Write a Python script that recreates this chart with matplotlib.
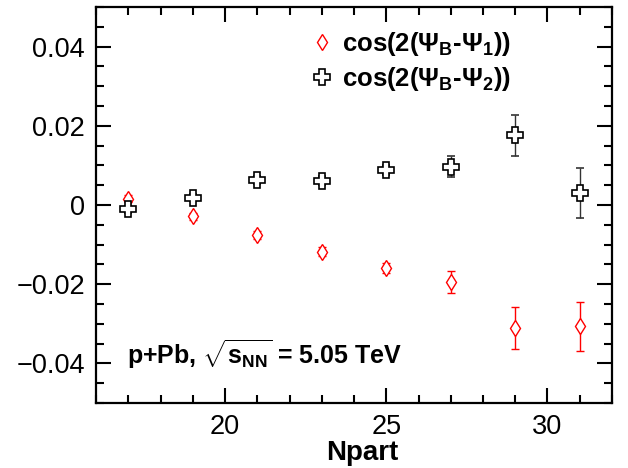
import matplotlib.pyplot as plt
import numpy as np
from matplotlib.ticker import MultipleLocator
from matplotlib.lines import Line2D

plt.rcParams['font.family'] = 'Liberation Sans'
plt.rcParams['mathtext.fontset'] = 'custom'
plt.rcParams['mathtext.rm'] = 'Liberation Sans:bold'
plt.rcParams['mathtext.bf'] = 'Liberation Sans:bold'
plt.rcParams['mathtext.it'] = 'Liberation Sans:bold'
plt.rcParams['axes.unicode_minus'] = True

npart = np.array([17, 19, 21, 23, 25, 27, 29, 31])

# cos(2(PsiB - Psi1))
cos_b1 = np.array([0.0016, -0.0028, -0.0076, -0.0118, -0.0159, -0.0195, -0.0310, -0.0306])
err_b1 = np.array([0.0008, 0.0009, 0.0010, 0.0011, 0.0013, 0.0027, 0.0053, 0.0062])

# cos(2(PsiB - Psi2))
cos_b2 = np.array([-0.0011, 0.0018, 0.0064, 0.0061, 0.0089, 0.0097, 0.0176, 0.0031])
err_b2 = np.array([0.0008, 0.0009, 0.0010, 0.0011, 0.0013, 0.0027, 0.0052, 0.0063])

lab1 = r'cos(2($\Psi_{B}$-$\Psi_{1}$))'
lab2 = r'cos(2($\Psi_{B}$-$\Psi_{2}$))'

fig = plt.figure(figsize=(6.28, 4.68), dpi=100)
ax = fig.add_axes([0.153, 0.139, 0.8215, 0.846])

st1 = dict(marker='d', color='red', mfc='white', mec='red', ms=8.6, mew=1.0)
st2 = dict(marker='P', color='#333333', mfc='white', mec='black', ms=11.5, mew=1.2)

ax.errorbar(npart, cos_b1, yerr=err_b1, ls='none', elinewidth=1.0, capsize=3, capthick=1.0, **st1)
ax.errorbar(npart, cos_b2, yerr=err_b2, ls='none', elinewidth=1.0, capsize=3, capthick=1.0, **st2)

ax.set_xlim(16, 32)
ax.set_ylim(-0.05, 0.05)
ax.xaxis.set_major_locator(MultipleLocator(5))
ax.xaxis.set_minor_locator(MultipleLocator(1))
ax.yaxis.set_major_locator(MultipleLocator(0.02))
ax.yaxis.set_minor_locator(MultipleLocator(0.005))
ax.yaxis.set_major_formatter(plt.FuncFormatter(lambda v, p: '0' if abs(v) < 1e-9 else f'{v:.2f}'.replace('-', '\u2212')))

ax.tick_params(which='both', direction='in', top=True, right=True, width=1.5, labelsize=19.5)
ax.tick_params(which='major', length=11, pad=8)
ax.tick_params(which='minor', length=6)
for s in ax.spines.values():
    s.set_linewidth(1.6)

ax.set_xlabel('Npart', fontsize=20, fontweight='bold', x=0.515, labelpad=0)

# legend shows markers only
handles = [Line2D([], [], ls='none', **st1), Line2D([], [], ls='none', **st2)]
ax.legend(handles, [lab1, lab2], loc='upper left', bbox_to_anchor=(0.36, 1.0), frameon=False,
          prop={'size': 18.5, 'weight': 'bold'}, handletextpad=0.15,
          labelspacing=0.25, handlelength=1.3)

ax.text(0.06, 0.122, r'p+Pb, $\sqrt{s_{NN}}$ = 5.05 TeV', transform=ax.transAxes,
        fontsize=18, fontweight='bold', va='center', ha='left')

fig.savefig('out.png', dpi=100)
